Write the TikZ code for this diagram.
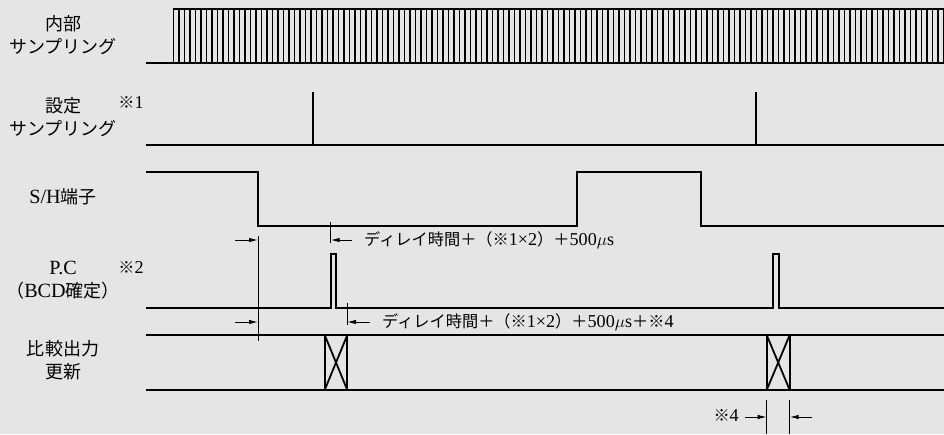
\documentclass[tikz,border=0pt]{standalone}
\usepackage{fontspec}
\setmainfont{Liberation Serif}[Scale=1.12]
\newfontfamily\jp{Noto Sans CJK JP}
\usepackage{tikz}
\usetikzlibrary{positioning}
\usetikzlibrary{arrows.meta}

\tikzset{
  sig/.style={line width=1.8pt},
  comb/.style={line width=1.6pt},
  dimline/.style={line width=1pt},
  dimarrow/.style={-{Latex[length=9pt,width=4.5pt]}, line width=1pt},
  lbl/.style={font=\fontsize{18}{23.5}\selectfont, align=center, inner sep=0pt},
  note/.style={font=\fontsize{16.2}{18}\selectfont, inner sep=0pt},
}

\begin{document}
\begin{tikzpicture}[x=1pt, y=-1pt]
            \useasboundingbox (0,0) rectangle (944,434);
            \fill[black!10] (0,0) rectangle (944,434);

            % Etiquetas
            \node[lbl] (lblint) at (63,35) {{\jp 内部}\\{\jp サンプリング}};
            \node[lbl] (lblset) at (63,117) {{\jp 設定}\\{\jp サンプリング}};
            \node[lbl] (lblsh) at (63,197) {S/H{\jp 端子}};
            \node[lbl] (lblpc) at (63,280) {P.C\\{\jp （}BCD{\jp 確定）}};
            \node[lbl] (lblcmp) at (63,360) {{\jp 比較出力}\\{\jp 更新}};
            \node[note] (n1) at (131,103) {{\jp ※}1};
            \node[note] (n2) at (131,267) {{\jp ※}2};

            % Senales
            \draw[sig] (146,63) -- (173.5,63) -- (173.5,8.7) -- (944,8.7);
            \draw[sig] (173.5,63) -- (944,63);
            \foreach \i in {1,...,140}
              \draw[comb] (173.5+5.5*\i,8.7) -- ++(0,54.3);

            \draw[sig] (146,145) -- (944,145);
            \draw[sig] (313,145) -- (313,92);
            \draw[sig] (756,145) -- (756,92);

            \draw[sig] (146,172) -- (258,172) -- (258,226) -- (577,226)
              -- (577,172) -- (701,172) -- (701,226) -- (944,226);

            \draw[sig] (146,308) -- (330.7,308) -- (330.7,254) -- (336,254)
              -- (336,308) -- (772.7,308) -- (772.7,254) -- (778.7,254)
              -- (778.7,308) -- (944,308);

            \draw[sig] (146,335) -- (944,335);
            \draw[sig] (146,390) -- (944,390);
            \draw[sig] (324.7,335) rectangle (347.3,390);
            \draw[sig] (324.7,335) -- (347.3,390) (324.7,390) -- (347.3,335);
            \draw[sig] (766.7,335) rectangle (789.7,390);
            \draw[sig] (766.7,335) -- (789.7,390) (766.7,390) -- (789.7,335);

            % Cotas
            \coordinate (shtop) at (258,236);
            \coordinate (shbot) at (258,341);
            \coordinate (pctop) at (330.7,222);
            \coordinate (pcbot) at (330.7,243);
            \coordinate (cmptop) at (347,303);
            \coordinate (cmpbot) at (347,325);
            \coordinate (xltop) at (766.7,400);
            \coordinate (xlbot) at (766.7,434);
            \coordinate (xrtop) at (789.7,400);
            \coordinate (xrbot) at (789.7,434);
            \draw[dimline] (shtop) -- (shbot);
            \draw[dimline] (pctop) -- (pcbot);
            \draw[dimline] (cmptop) -- (cmpbot);
            \draw[dimline] (xltop) -- (xlbot);
            \draw[dimline] (xrtop) -- (xrbot);

            \coordinate (a1) at (235,240);
            \coordinate (a2) at (235,322);
            \coordinate (a3) at (352,240);
            \coordinate (a4) at (370,322);
            \coordinate (a5) at (745,417);
            \coordinate (a6) at (812,417);
            \draw[dimarrow] (a1) -- (a1 -| shtop);
            \draw[dimarrow] (a2) -- (a2 -| shtop);
            \draw[dimarrow] (a3) -- (a3 -| pctop);
            \draw[dimarrow] (a4) -- (a4 -| cmptop);
            \draw[dimarrow] (a5) -- (a5 -| xltop);
            \draw[dimarrow] (a6) -- (a6 -| xrtop);

            \node[note, anchor=west] (d1) at (364,240)
              {{\jp ディレイ時間＋（※}1×2{\jp ）＋}500$\mu$s};
            \node[note, anchor=west] (d2) at (382,322)
              {{\jp ディレイ時間＋（※}1×2{\jp ）＋}500$\mu$s{\jp ＋※}4};
            \node[note, anchor=east] (n4) at (739,415) {{\jp ※}4};
          \end{tikzpicture}
\end{document}
